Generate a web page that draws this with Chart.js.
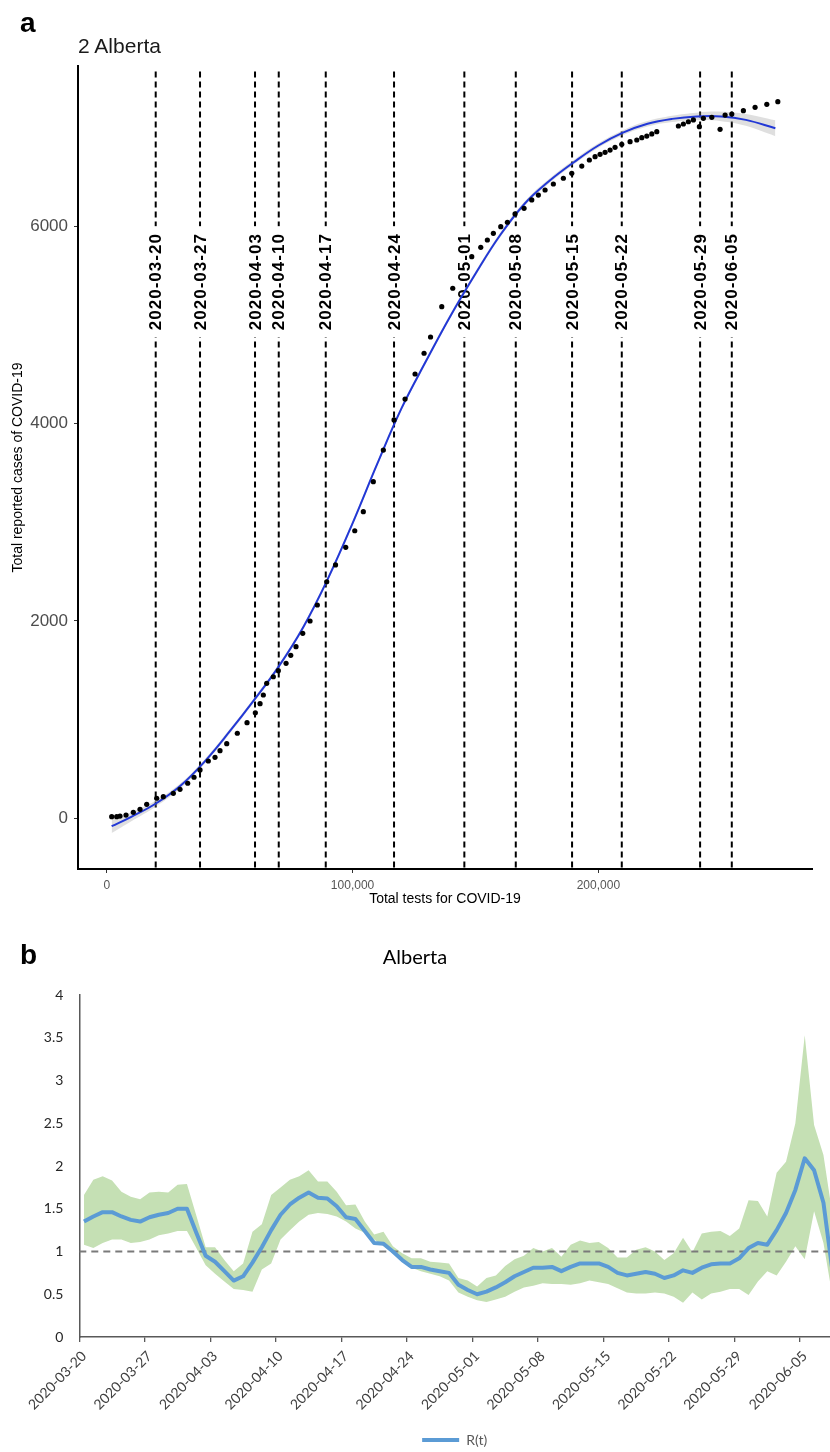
<!DOCTYPE html>
<html><head><meta charset="utf-8">
<script src="https://cdn.jsdelivr.net/npm/chart.js@4.4.1/dist/chart.umd.min.js"></script>
<style>
html,body{margin:0;padding:0;background:#fff;}
body{width:830px;height:1452px;position:relative;overflow:hidden;}
#wrapA{position:absolute;left:0;top:0;width:830px;height:920px;}
#wrapB{position:absolute;left:0;top:920px;width:830px;height:537px;}
.lbl{position:absolute;font-family:"Liberation Sans",Arial,sans-serif;font-weight:bold;font-size:28px;line-height:1;color:#000;}
#ttlA{position:absolute;left:78px;top:35px;font-family:"Liberation Sans",Arial,sans-serif;font-size:21px;line-height:1;color:#1a1a1a;white-space:nowrap;}
</style></head>
<body>
<div id="wrapA"><canvas id="cA" width="830" height="920"></canvas></div>
<div id="wrapB"><canvas id="cB" width="830" height="537"></canvas></div>
<div class="lbl" style="left:20px;top:9px">a</div>
<div id="ttlA">2 Alberta</div>
<div class="lbl" style="left:20px;top:941px">b</div>
<script>
// ---------------- Panel a data ----------------
const scatterTests = [2030,4070,5410,7850,10820,13550,16270,20340,23030,27100,
  29820,32950,35520,37960,41330,44060,46090,48820,53130,57080,
  60460,62370,63710,65090,67780,69810,72950,74860,77010,79740,
  82710,85680,89500,93080,97230,100900,104390,108460,112530,116880,
  121360,125430,129090,131730,136290,140760,148490,152160,154840,157280,
  160290,162980,166110,169770,172900,175590,178320,181690,185760,189180,
  193250,196340,198660,200690,202730,204760,206790,209520,212900,215620,
  217660,219690,221730,223760,232550,234580,236610,238650,241090,242720,
  246140,249510,251550,254270,258990,263750,268510,272990];
const scatterCases = [16,16,23,33,61,91,142,203,219,253,
  294,355,416,490,581,618,685,756,862,969,
  1070,1162,1250,1368,1435,1496,1571,1652,1740,1875,
  2000,2162,2398,2568,2747,2915,3108,3412,3733,4038,
  4250,4504,4714,4879,5186,5373,5693,5788,5862,5930,
  5997,6042,6126,6183,6268,6318,6369,6430,6488,6538,
  6612,6673,6707,6731,6751,6774,6802,6832,6859,6876,
  6899,6916,6937,6960,7018,7038,7061,7079,7011,7096,
  7106,6984,7129,7139,7173,7207,7238,7264];
const fitTests = [2000,10000,20000,30000,40000,50000,60000,70000,80000,90000,100000,110000,120000,130000,
  140000,150000,160000,170000,180000,190000,200000,210000,220000,230000,240000,250000,260000,272000];
const fitCases = [-80,15,150,330,580,880,1200,1540,1940,2430,2990,3590,4160,4640,
  5100,5520,5910,6230,6460,6650,6820,6950,7040,7090,7115,7115,7080,6995];
const fitLow = [-150,-30,120,305,558,858,1178,1518,1918,2408,2968,3568,4138,4618,
  5078,5498,5888,6208,6438,6628,6798,6925,7012,7058,7077,7067,7020,6915];
const fitHigh = [-10,60,180,355,602,902,1222,1562,1962,2452,3012,3612,4182,4662,
  5122,5542,5932,6252,6482,6672,6842,6975,7068,7122,7153,7163,7140,7075];
const dateLineTests = [19930,37960,60330,69980,89100,116880,145480,166400,189300,209520,241380,254270];
const dateLineLabels = ['2020-03-20','2020-03-27','2020-04-03','2020-04-10','2020-04-17','2020-04-24',
  '2020-05-01','2020-05-08','2020-05-15','2020-05-22','2020-05-29','2020-06-05'];
const dateLineTop = 7570;
const dateLabelY = 5440;
const yTicksA = [0,2000,4000,6000];
const xTicksA = [0,100000,200000];
const yRangeA = [-514, 7626];
const xRangeA = [-11680, 286900];

// ---------------- Panel b data ----------------
const startDateB = '2020-03-20';
const rValues = [1.35,1.41,1.46,1.46,1.41,1.37,1.35,1.40,1.43,1.45,
  1.50,1.50,1.22,0.95,0.88,0.77,0.66,0.71,0.87,1.05,
  1.25,1.43,1.55,1.63,1.69,1.63,1.62,1.53,1.40,1.38,
  1.24,1.10,1.09,1.00,0.90,0.82,0.82,0.79,0.77,0.75,
  0.61,0.55,0.50,0.53,0.58,0.64,0.71,0.76,0.81,0.81,
  0.82,0.77,0.82,0.86,0.86,0.86,0.82,0.75,0.72,0.74,
  0.76,0.74,0.69,0.72,0.78,0.75,0.81,0.85,0.86,0.86,
  0.92,1.04,1.10,1.08,1.25,1.45,1.72,2.09,1.95,1.57,0.74];
const rUpper = [1.66,1.84,1.88,1.83,1.70,1.64,1.61,1.69,1.70,1.69,
  1.78,1.79,1.42,1.05,1.05,0.90,0.77,0.86,1.23,1.32,
  1.66,1.75,1.84,1.88,1.95,1.82,1.82,1.70,1.54,1.55,
  1.35,1.20,1.23,1.06,0.98,0.92,0.92,0.88,0.87,0.86,
  0.69,0.66,0.59,0.69,0.72,0.83,0.91,0.95,1.04,1.00,
  1.04,0.94,1.08,1.13,1.10,1.11,1.04,0.93,0.93,1.02,
  1.05,1.00,0.90,0.98,1.16,0.99,1.21,1.23,1.24,1.18,
  1.27,1.60,1.59,1.41,1.92,2.05,2.50,3.53,2.48,2.13,1.40];
const rLower = [1.08,1.04,1.10,1.14,1.14,1.10,1.11,1.14,1.19,1.21,
  1.24,1.24,1.04,0.84,0.74,0.65,0.56,0.55,0.53,0.79,
  0.86,1.14,1.25,1.35,1.43,1.45,1.44,1.41,1.35,1.27,
  1.22,1.14,1.06,0.98,0.90,0.81,0.77,0.74,0.71,0.66,
  0.52,0.47,0.43,0.41,0.44,0.47,0.53,0.58,0.60,0.63,
  0.62,0.62,0.61,0.63,0.66,0.64,0.62,0.57,0.52,0.51,
  0.51,0.52,0.51,0.47,0.40,0.52,0.44,0.51,0.53,0.56,
  0.56,0.49,0.65,0.77,0.72,0.88,1.06,0.91,1.47,1.10,0.45];
const xTickLabelsB = ['2020-03-20','2020-03-27','2020-04-03','2020-04-10','2020-04-17','2020-04-24',
  '2020-05-01','2020-05-08','2020-05-15','2020-05-22','2020-05-29','2020-06-05'];
const refLineValue = 1;
const xMaxDaysB = 80.2;

// ---------------- helpers ----------------
const SANS = '"Liberation Sans", Arial, sans-serif';
const LATO = 'Lato, "Open Sans", sans-serif';
const dayOf = s => Math.round((Date.parse(s) - Date.parse(startDateB)) / 864e5);

// ---------------- Chart a ----------------
const ptsA = scatterTests.map((t,i)=>({x:t,y:scatterCases[i]}));
const fitA = fitTests.map((t,i)=>({x:t,y:fitCases[i]}));
const fitLoA = fitTests.map((t,i)=>({x:t,y:fitLow[i]}));
const fitHiA = fitTests.map((t,i)=>({x:t,y:fitHigh[i]}));
const vLines = [];
dateLineTests.forEach(t=>{ vLines.push({x:t,y:dateLineTop},{x:t,y:yRangeA[0]},{x:t,y:null}); });

const dateLabelPlugin = {
  id:'dateLabels',
  afterDatasetDraw(chart, args){
    if (args.index !== 4) return;
    const ctx = chart.ctx, xs = chart.scales.x, ys = chart.scales.y;
    ctx.save();
    ctx.font = 'bold 17px ' + SANS;
    try { ctx.letterSpacing = '1px'; } catch(e) {}
    ctx.textAlign = 'center'; ctx.textBaseline = 'middle';
    dateLineLabels.forEach((lab,i)=>{
      const px = xs.getPixelForValue(dateLineTests[i]);
      const py = ys.getPixelForValue(dateLabelY);
      const w = ctx.measureText(lab).width;
      ctx.save();
      ctx.translate(px, py);
      ctx.rotate(-Math.PI/2);
      ctx.fillStyle = '#fff';
      ctx.fillRect(-w/2-7, -8, w+14, 16);
      ctx.fillStyle = '#000';
      ctx.fillText(lab, 0, 1);
      ctx.restore();
    });
    ctx.restore();
  }
};

new Chart(document.getElementById('cA'), {
  type:'line',
  data:{ datasets:[
    {label:'cases', data:ptsA, showLine:false, pointRadius:2.6, pointBackgroundColor:'#000', pointBorderWidth:0, pointHoverRadius:0},
    {label:'fit', data:fitA, borderColor:'#2238d6', borderWidth:2, pointRadius:0, tension:0.4, fill:false},
    {label:'se high', data:fitHiA, borderWidth:0, borderColor:'rgba(0,0,0,0)', pointRadius:0, tension:0.4, fill:'+1', backgroundColor:'rgba(150,150,150,0.3)'},
    {label:'se low', data:fitLoA, borderWidth:0, borderColor:'rgba(0,0,0,0)', pointRadius:0, tension:0.4, fill:false},
    {label:'dates', data:vLines, borderColor:'#000', borderWidth:2, borderDash:[6,4], pointRadius:0, spanGaps:false, fill:false, tension:0}
  ]},
  options:{
    responsive:false, animation:false, events:[],
    layout:{ padding:{ top:66, right:18, bottom:0, left:0 } },
    plugins:{ legend:{display:false}, title:{display:false}, tooltip:{enabled:false} },
    scales:{
      x:{ type:'linear', min:xRangeA[0], max:xRangeA[1],
        afterBuildTicks: s=>{ s.ticks = xTicksA.map(v=>({value:v})); },
        afterFit: s=>{ s.height = 51; s.paddingLeft = 0; s.paddingRight = 0; },
        ticks:{ font:{family:SANS,size:12}, color:'#555', padding:5, maxRotation:0, autoSkip:false,
          callback: v => Number(v).toLocaleString('en-US') },
        grid:{ drawOnChartArea:false, drawTicks:true, tickLength:4, color:'#333' },
        border:{ display:true, color:'#000', width:2 },
        title:{ display:true, text:'Total tests for COVID-19', font:{family:SANS,size:14}, color:'#000', padding:{top:0,bottom:12} }
      },
      y:{ type:'linear', min:yRangeA[0], max:yRangeA[1],
        afterBuildTicks: s=>{ s.ticks = yTicksA.map(v=>({value:v})); },
        afterFit: s=>{ s.width = 78; s.paddingTop = 0; s.paddingBottom = 0; },
        ticks:{ font:{family:SANS,size:17}, color:'#4d4d4d', padding:6, autoSkip:false, callback: v => String(v) },
        grid:{ drawOnChartArea:false, drawTicks:true, tickLength:4, color:'#333' },
        border:{ display:true, color:'#000', width:2 },
        title:{ display:true, text:'Total reported cases of COVID-19', font:{family:SANS,size:14}, color:'#000', padding:{top:10,bottom:0} }
      }
    }
  },
  plugins:[dateLabelPlugin]
});

// ---------------- Chart b ----------------
const rPts = rValues.map((v,i)=>({x:i+0.5,y:v}));
const upPts = rUpper.map((v,i)=>({x:i+0.5,y:v}));
const loPts = rLower.map((v,i)=>({x:i+0.5,y:v}));
const refPts = [{x:0,y:refLineValue},{x:xMaxDaysB,y:refLineValue}];
const tickDaysB = xTickLabelsB.map(dayOf);

new Chart(document.getElementById('cB'), {
  type:'line',
  data:{ datasets:[
    {label:'R(t)', data:rPts, borderColor:'#5B9BD5', backgroundColor:'#5B9BD5', borderWidth:4, pointRadius:0,
      pointBorderWidth:4, pointBorderColor:'#5B9BD5', tension:0, fill:false, borderJoinStyle:'round'},
    {label:'ref', data:refPts, borderColor:'#7a7a7a', borderWidth:2, borderDash:[7,5], pointRadius:0, fill:false},
    {label:'upper', data:upPts, borderWidth:0, borderColor:'rgba(0,0,0,0)', pointRadius:0, fill:'+1', backgroundColor:'#C5E0B4', tension:0},
    {label:'lower', data:loPts, borderWidth:0, borderColor:'rgba(0,0,0,0)', pointRadius:0, fill:false, tension:0}
  ]},
  options:{
    responsive:false, animation:false, events:[],
    layout:{ padding:{ top:0, right:0, bottom:0, left:0 } },
    plugins:{
      tooltip:{enabled:false},
      title:{ display:true, text:'Alberta', font:{family:LATO,size:20,weight:'normal'}, color:'#000', padding:{top:26,bottom:25} },
      legend:{ display:true, position:'bottom', fullSize:false,
        labels:{ usePointStyle:true, pointStyle:'line', pointStyleWidth:37, font:{family:LATO,size:14}, color:'#595959', padding:5,
          filter: item => item.datasetIndex === 0 } }
    },
    scales:{
      x:{ type:'linear', min:0, max:xMaxDaysB,
        afterBuildTicks: s=>{ s.ticks = tickDaysB.map(v=>({value:v})); },
        afterFit: s=>{ s.height = 91; s.paddingLeft = 0; s.paddingRight = 0; },
        ticks:{ autoSkip:false, minRotation:45, maxRotation:45, labelOffset:4.7, padding:6,
          font:{family:LATO,size:14}, color:'#404040',
          callback: (v,i) => xTickLabelsB[i] },
        grid:{ drawOnChartArea:false, drawTicks:true, tickLength:5, color:'#595959', lineWidth:1.3 },
        border:{ display:true, color:'#595959', width:1.5 }
      },
      y:{ type:'linear', min:0, max:4,
        afterFit: s=>{ s.width = 79.3; s.paddingTop = 0; s.paddingBottom = 0; },
        ticks:{ stepSize:0.5, font:{family:LATO,size:14}, color:'#262626', padding:16, callback: v => String(v) },
        grid:{ drawOnChartArea:false, drawTicks:false },
        border:{ display:true, color:'#595959', width:1.5 }
      }
    }
  }
});
</script>
</body></html>
